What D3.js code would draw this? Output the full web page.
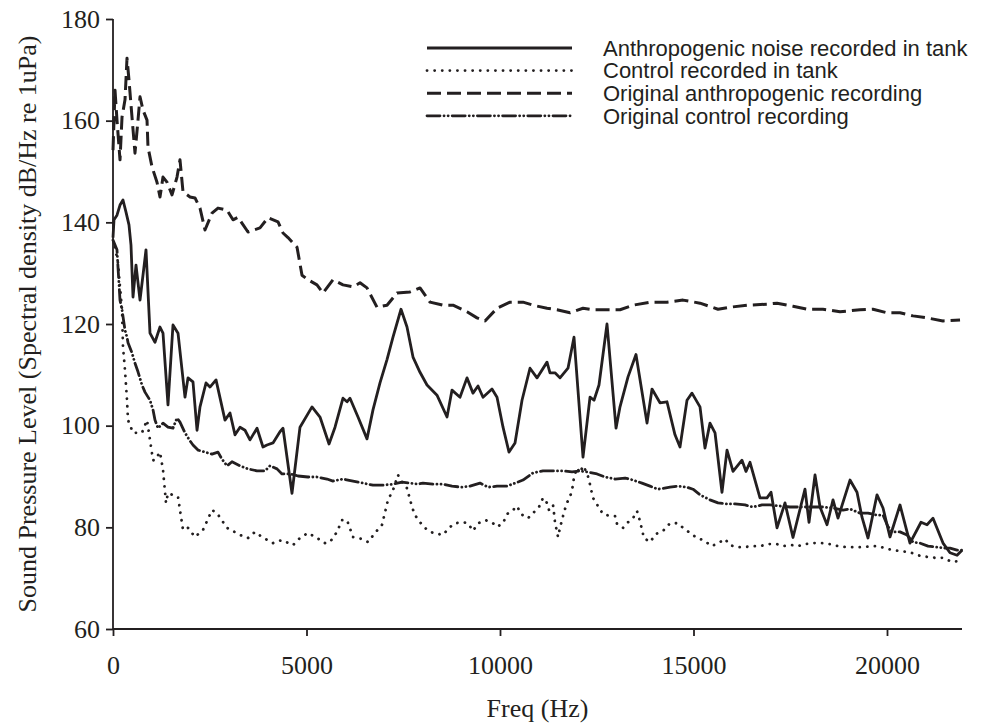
<!DOCTYPE html>
<html>
<head>
<meta charset="utf-8">
<script src="https://cdn.jsdelivr.net/npm/d3@7"></script>
<style>
  html,body{margin:0;padding:0;background:#fff;}
  svg{display:block;}
  .axis path,.axis line{stroke:#231f20;stroke-width:1.8;}
  .axis text{font-family:"Liberation Serif","Times New Roman",serif;font-size:26px;fill:#231f20;}
  .lab{font-family:"Liberation Serif","Times New Roman",serif;font-size:26px;fill:#231f20;}
  .leg{font-family:"Liberation Sans",Arial,sans-serif;font-size:22px;fill:#231f20;}
  .series{fill:none;stroke:#231f20;stroke-linejoin:round;}
</style>
</head>
<body>
<svg id="chart" width="1000" height="726"></svg>
<script>
// [freq Hz, dB]
const tankNoise = [
  [0,137],[26,140.5],[103,141.4],[181,143.4],[258,144.4],[336,142],[413,139.5],[465,135.5],
  [517,125.3],[594,131.6],[698,124.7],[853,134.6],[956,118.2],[1085,116.4],[1214,119.4],
  [1292,118.2],[1421,104.1],[1550,119.8],[1680,118.2],[1860,105.6],[1938,109.4],[2067,108.6],
  [2171,99.1],[2248,103.7],[2403,108.4],[2506,107.6],[2662,109],[2894,101.1],[3023,102.5],
  [3153,98.2],[3282,99.7],[3411,99.1],[3540,97.2],[3721,99.5],[3876,95.8],[3979,96.2],
  [4134,96.6],[4315,98.8],[4393,99.5],[4625,86.7],[4832,99.7],[5142,103.7],[5349,101.7],
  [5582,96.4],[5737,99.7],[5943,105.4],[6047,104.7],[6124,105.4],[6331,101.7],[6563,97.4],
  [6718,103.1],[6899,108.4],[7080,113],[7235,117.4],[7442,122.9],[7597,119.4],[7752,113.5],
  [7933,110.5],[8114,108],[8372,106],[8631,101.7],[8760,107],[8966,105.6],[9147,109.4],
  [9302,106.4],[9432,107.8],[9561,105.6],[9793,107.2],[9923,105.6],[10078,99.7],[10233,94.8],
  [10388,96.6],[10569,105],[10775,111.3],[10956,109.4],[11215,112.5],[11292,110.4],[11421,110.4],
  [11550,109.4],[11757,111.3],[11912,117.4],[12145,93.8],[12326,105.6],[12429,105],[12558,108],
  [12765,120],[12998,99.5],[13101,103.7],[13308,109.6],[13514,114],[13799,100.5],[13928,107.2],
  [14134,104.5],[14315,104.7],[14522,98.2],[14651,95.8],[14832,105],[14961,106.4],[15168,103.7],
  [15297,95.6],[15426,100.5],[15556,98.6],[15736,86.9],[15866,95.2],[16021,91],[16253,93.2],
  [16357,91],[16460,92.8],[16718,85.8],[16899,85.8],[17003,86.9],[17158,79.9],[17364,84.8],
  [17571,78],[17881,87.5],[17985,81],[18140,90.3],[18269,84],[18450,80.5],[18605,85.4],
  [18734,81.8],[19044,89.3],[19225,86.9],[19354,82],[19509,77.9],[19742,86.4],[19897,83.8],
  [20077,78.1],[20336,84.4],[20594,76.9],[20879,81],[21034,80.5],[21189,81.8],[21447,76.9],
  [21628,75],[21810,74.5],[21938,75.5]
];
const tankControl = [
  [52,135.1],[129,132],[181,127.3],[233,122.8],[258,115.5],[310,110.9],[362,105],[388,101.1],
  [517,98.6],[749,98.6],[879,101.1],[956,97.2],[1034,93.2],[1085,93.2],[1214,94.8],[1292,91.3],
  [1370,84.8],[1421,86.7],[1680,86],[1809,79.5],[1938,79.9],[2119,78.1],[2326,79.5],[2558,83.4],
  [2687,82.8],[2946,79.9],[3282,78.5],[3488,77.9],[3669,79.1],[3850,78.1],[4134,76.9],[4367,77.5],
  [4651,76.5],[4832,77.9],[5039,78.9],[5271,77.9],[5478,76.9],[5607,77.1],[5788,79.1],[5917,81.4],
  [6047,81.4],[6202,78.1],[6434,77.7],[6589,77.1],[6770,78.9],[6951,80.5],[7106,85.4],[7235,87.3],
  [7364,90.3],[7468,88.9],[7597,87.7],[7726,84],[7804,82.4],[7933,81],[8114,79.5],[8269,78.9],
  [8527,78.5],[8682,79.9],[8837,80.8],[9044,81],[9173,80.8],[9302,79.3],[9432,80.8],[9638,81.4],
  [9819,80.8],[9923,80.1],[10078,80.8],[10181,82.6],[10336,83.4],[10440,84.2],[10543,82.6],
  [10724,81.8],[10853,82.8],[11008,84],[11111,85.8],[11215,84.8],[11266,83.4],[11370,84.4],
  [11395,82.8],[11421,81],[11473,79.1],[11499,78.1],[11550,79.9],[11602,81.4],[11654,83],
  [11731,84.8],[11835,86.6],[11886,88.3],[11912,89.9],[11990,91.7],[12067,90.7],[12145,92.1],
  [12248,90.7],[12300,89.3],[12352,87.5],[12403,85.8],[12532,84.2],[12662,82.6],[12868,82.2],
  [12972,82.2],[13023,80.7],[13178,79.9],[13308,81],[13437,81.8],[13540,83.2],[13618,81.2],
  [13669,79.5],[13721,77.9],[13876,77.1],[14031,78.7],[14212,79.3],[14393,80.8],[14600,80.8],
  [14729,79.9],[14910,78.9],[15091,77.9],[15246,77.5],[15478,76.3],[15685,77.1],[15814,77.7],
  [15943,76.5],[16124,76.1],[16305,76.1],[16512,76.3],[16718,76.3],[16925,76.7],[17158,76.7],
  [17313,76.3],[17545,76.5],[17700,76.3],[17881,76.7],[18088,76.9],[18320,76.9],[18527,76.7],
  [18734,76.3],[18967,76.1],[19173,76.1],[19380,76.1],[19613,76.3],[19768,76.3],[19948,75.9],
  [20155,75.5],[20388,75.3],[20594,75.1],[20801,74.5],[21034,74.2],[21241,74],[21447,74],
  [21680,73.2],[21861,73.4]
];
const origNoise = [
  [0,154.2],[52,166],[103,160.1],[181,152.3],[233,160.7],[310,164.1],[362,172.3],[413,168],
  [491,160.7],[568,153.6],[646,160.1],[698,164.7],[775,162.1],[879,160.1],[904,154.8],
  [1008,150.9],[1137,147.9],[1214,145],[1292,148.9],[1395,147.9],[1525,145.4],[1654,148.9],
  [1731,152.3],[1809,146],[1990,145],[2119,144.8],[2248,142.8],[2377,138.5],[2558,141.8],
  [2713,142.8],[2946,142.4],[3101,140.5],[3230,141],[3488,138.1],[3798,138.9],[4005,140.9],
  [4264,140.1],[4393,137.9],[4522,137],[4755,135.1],[4884,129.6],[5039,128.7],[5271,127.7],
  [5426,126.1],[5685,128.7],[5943,127.7],[6202,127.3],[6383,128.1],[6563,127.1],[6822,123.3],
  [7080,123.7],[7338,126.1],[7674,126.3],[7933,127.1],[8191,124.3],[8527,123.7],[8786,123.7],
  [9147,122.4],[9406,121.2],[9613,120.6],[9923,123.1],[10258,124.3],[10594,124.3],[10853,123.7],
  [11215,123.1],[11473,122.8],[11809,122.2],[12145,123.1],[12403,122.8],[12842,122.8],
  [13101,122.8],[13437,123.7],[13876,124.3],[14315,124.3],[14729,124.7],[15168,124.1],
  [15633,122.9],[15943,123.3],[16383,123.7],[16899,123.9],[17158,124.1],[17571,123.5],
  [17933,122.9],[18346,122.9],[18786,122.4],[19302,122.8],[19638,122.9],[20000,122.2],
  [20336,122.2],[20672,121.6],[21034,121.2],[21447,120.6],[21887,120.8]
];
const origControl = [
  [0,136.5],[103,134.6],[129,131.2],[181,124.7],[233,122.8],[310,118.8],[362,117.4],[388,116.3],
  [491,114.3],[568,112.3],[646,110.6],[749,108],[827,106.6],[956,105],[1034,103.1],[1085,101.1],
  [1163,99.5],[1292,100.5],[1421,99.7],[1550,99.5],[1654,101.5],[1731,100.7],[1860,98.6],
  [1990,97],[2067,96.2],[2196,95.2],[2377,94.8],[2558,94.4],[2713,94.8],[2817,93.4],[2946,92.1],
  [3075,92.9],[3282,92.1],[3488,91.5],[3721,91.1],[3928,91.1],[4057,92.1],[4238,91.5],[4367,90.5],
  [4574,90.5],[4780,90.1],[5039,89.9],[5271,89.9],[5530,89.5],[5685,89.1],[5943,89.5],[6202,89.1],
  [6460,88.7],[6718,88.3],[6977,88.3],[7235,88.5],[7468,88.9],[7674,88.7],[7881,88.5],[8010,88.7],
  [8269,88.5],[8527,88.5],[8760,88.1],[9018,87.9],[9225,88.1],[9483,88.7],[9690,87.9],[9923,88.1],
  [10181,88.1],[10388,88.7],[10594,89.3],[10853,90.7],[11111,91.1],[11370,91.1],[11628,91.1],
  [11861,90.9],[12067,91.1],[12248,90.9],[12507,90.5],[12713,89.9],[12972,89.5],[13230,89.7],
  [13437,89.3],[13669,88.7],[13876,88.1],[14083,87.5],[14393,87.9],[14600,88.1],[14832,87.9],
  [14987,87.5],[15168,86.4],[15426,85.4],[15633,84.8],[15866,84.6],[16072,84.6],[16331,84.4],
  [16538,84],[16770,84.4],[16977,84.4],[17235,84.2],[17494,84],[17933,84],[18140,84],[18346,84],
  [18605,83.8],[18863,83.4],[19044,83.6],[19302,82.8],[19509,82.8],[19742,82.4],[19897,82.4],
  [20026,80.1],[20155,79.1],[20336,79.1],[20517,78.5],[20672,77.1],[20853,76.9],[21060,76.3],
  [21292,76.1],[21499,75.9],[21628,75.9],[21810,75.5],[21938,75.5]
];
const xTicks = [0,5000,10000,15000,20000];
const yTicks = [60,80,100,120,140,160,180];
const legendLabels = ['Anthropogenic noise recorded in tank','Control recorded in tank',
  'Original anthropogenic recording','Original control recording'];

const STYLE = [
  {w:2.8, dash:null,               cap:'butt'},
  {w:2.8, dash:'0.1,7.5',          cap:'round'},
  {w:3,   dash:'14,6',             cap:'butt'},
  {w:2.8, dash:'13,4,0.1,4,0.1,4', cap:'round'},
];
const SERIES = [tankNoise, tankControl, origNoise, origControl];

const m = {l:113, r:962, t:19, b:629};
const svg = d3.select('#chart');
const x = d3.scaleLinear().domain([0,21938]).range([m.l,m.r]);
const y = d3.scaleLinear().domain([60,180]).range([m.b,m.t]);

// axes
svg.append('g').attr('class','axis').attr('transform',`translate(0,${m.b})`)
  .call(d3.axisBottom(x).tickValues(xTicks).tickSize(7).tickPadding(20).tickFormat(d3.format('d')))
  .call(g=>g.select('.domain').attr('d',`M${m.l},0H${m.r}`));
svg.append('g').attr('class','axis').attr('transform',`translate(${m.l},0)`)
  .call(d3.axisLeft(y).tickValues(yTicks).tickSize(7).tickPadding(6))
  .call(g=>g.select('.domain').attr('d',`M0,${m.t}V${m.b}`));

// series
const line = d3.line().x(d=>x(d[0])).y(d=>y(d[1]));
SERIES.forEach((s,i)=>{
  const st = STYLE[i];
  svg.append('path').datum(s).attr('class','series').attr('d',line)
    .attr('stroke-width',st.w).attr('stroke-dasharray',st.dash).attr('stroke-linecap',st.cap);
});

// legend
const leg = svg.append('g').attr('transform','translate(427,48)');
legendLabels.forEach((t,i)=>{
  const st = STYLE[i], yy = i*22.6;
  leg.append('line').attr('x1',0).attr('x2',145).attr('y1',yy).attr('y2',yy)
    .attr('stroke','#231f20').attr('stroke-width',st.w)
    .attr('stroke-dasharray',st.dash).attr('stroke-linecap',st.cap);
  leg.append('text').attr('class','leg').attr('x',176).attr('y',yy).attr('dy','0.35em').text(t);
});

// axis titles
svg.append('text').attr('class','lab').attr('x',(m.l+m.r)/2).attr('y',717)
  .attr('text-anchor','middle').text('Freq (Hz)');
svg.append('text').attr('class','lab')
  .attr('transform',`translate(36,${(m.t+m.b)/2}) rotate(-90)`)
  .attr('text-anchor','middle').text('Sound Pressure Level (Spectral density dB/Hz re 1uPa)');
</script>
</body>
</html>
